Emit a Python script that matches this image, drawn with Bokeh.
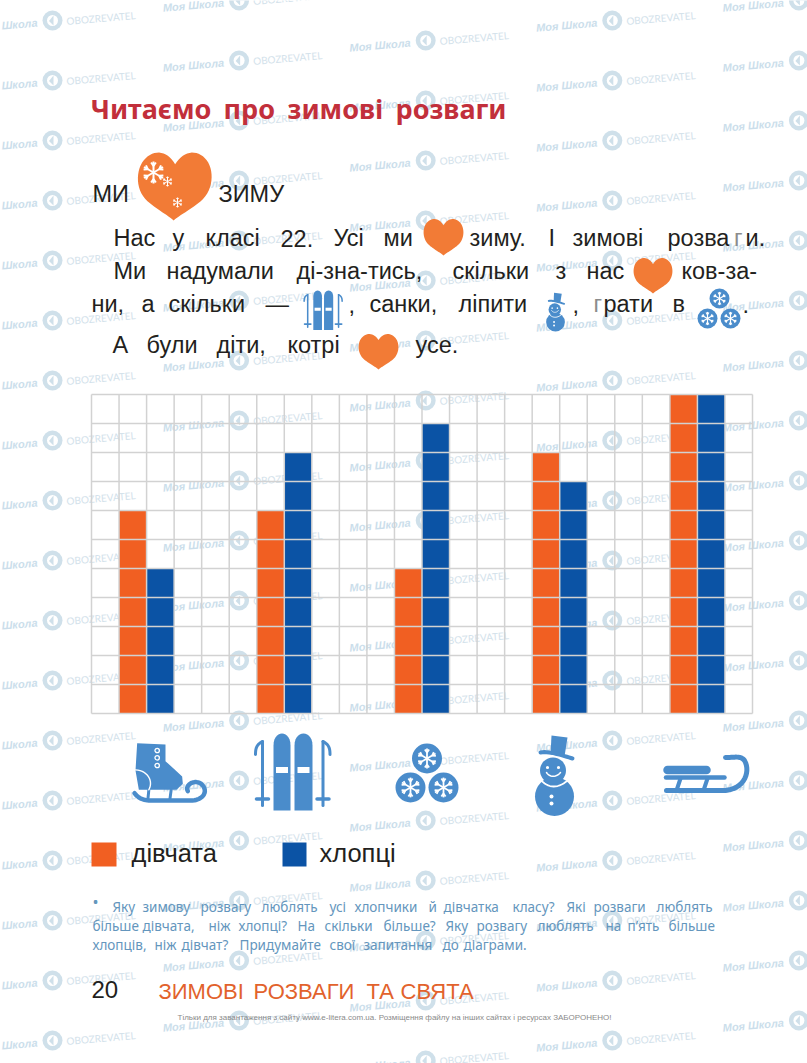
import math
from bokeh.plotting import figure
from bokeh.embed import file_html
from bokeh.resources import INLINE
from bokeh.models import Range1d
from bokeh.core.properties import value

# ---- data ----
activities = ["ковзани", "лижі", "сніжки", "сніговик", "санки"]
girls = [7, 7, 5, 9, 11]
boys = [5, 9, 10, 8, 11]
series_labels = ["дівчата", "хлопці"]
title_words = ["Читаємо", "про", "зимові", "розваги"]

# ---- page geometry ----
W, H = 807, 1063
PAD = 0
GX0, GX1, GY0, GY1 = 91.0, 752.0, 394.0, 713.0
COLS, ROWS = 24, 11
UX = (GX1 - GX0) / COLS
UY = (GY1 - GY0) / ROWS

ORANGE = "#f15f22"
BLUE = "#0b53a5"
HEART = "#f27b36"
ICON = "#4a8ccb"
INK = "#231f20"
WM = "#cfe0ea"

p = figure(width=W, height=H, output_backend="svg", toolbar_location=None,
           x_range=Range1d((PAD - GX0) / UX, (PAD + W - GX0) / UX),
           y_range=Range1d((GY1 - PAD - H) / UY, (GY1 - PAD) / UY),
           min_border=0, x_axis_type=None, y_axis_type=None,
           background_fill_color="white", border_fill_color="white")
p.outline_line_color = None
p.grid.visible = False
p.extra_x_ranges["px"] = Range1d(PAD, PAD + W)
p.extra_y_ranges["px"] = Range1d(PAD + H, PAD)
PX = dict(x_range_name="px", y_range_name="px")


def txt(x, y, s, font, size, color, style="normal", align="left", angle=0.0):
    # y is the visual baseline on the page; the renderer centres the caps on y
    p.text(x=[x], y=[y - 0.36 * size], text=[s], text_font=value(font), text_font_size=f"{size}px",
           text_color=color, text_font_style=style, text_align=align,
           text_baseline="alphabetic", angle=angle, **PX)


def words(items, y, font, size, color, style="normal"):
    for x, s in items:
        txt(x, y, s, font, size, color, style)


def bez(P0, P1, P2, P3, n=14):
    out = []
    for i in range(n + 1):
        t = i / n
        a, b, c, d = (1-t)**3, 3*t*(1-t)**2, 3*t*t*(1-t), t**3
        out.append((a*P0[0]+b*P1[0]+c*P2[0]+d*P3[0], a*P0[1]+b*P1[1]+c*P2[1]+d*P3[1]))
    return out


def path(segs):
    pts = []
    for s in segs:
        pts += bez(*s)
    return pts


# ---- watermarks ----
def watermark(cx, cy):
    ang = 0.085
    p.circle(x=[cx], y=[cy], radius=10, fill_color=WM, line_color=None, **PX)
    p.circle(x=[cx], y=[cy], radius=5.5, fill_color="white", line_color=None, **PX)
    p.patch(x=[cx + 1, cx - 3.5, cx + 1, cx + 1], y=[cy - 5, cy + 0.5, cy + 5, cy - 5],
            fill_color=WM, line_color=None, **PX)
    txt(cx - 15, cy + 6, "Моя Школа", "Liberation Sans", 11, "#cbdeeb", "bold italic", "right", ang)
    txt(cx + 14, cy + 4, "OBOZREVATEL", "Lato", 10, "#d3e2eb", "normal", "left", ang)


for col in range(5):
    base = 20 - 20 * col
    for r in range(0, 19):
        watermark(52 + 186.6 * col, base + 60 * r)

# ---- title and text ----
words(list(zip([90, 223, 287, 395], title_words)), 118, "Noto Sans", 27, "#c22f3b", "bold")

F, S = "Liberation Sans", 23.5
words([(92, "МИ"), (218, "ЗИМУ")], 202, F, S, INK)
words([(113, "Нас"), (172, "у"), (205, "класі"), (280, "22."), (333, "Усі"), (383, "ми"),
       (469, "зиму."), (548, "І"), (572, "зимові"), (667, "розва"), (745, "и.")], 246, F, S, INK)
txt(733.5, 246, "г", F, S, "#8c8c8c")
words([(113, "Ми"), (166, "надумали"), (296, "ді-зна-тись,"), (452, "скільки"), (555, "з"),
       (586, "нас"), (681, "ков-за-")], 279, F, S, INK)
words([(91, "ни,"), (141, "а"), (168, "скільки"), (265, "—"), (348, ","), (369, "санки,"),
       (458, "ліпити"), (572, ","), (603, "рати"), (672, "в"), (742, ".")], 312, F, S, INK)
txt(593, 312, "г", F, S, "#8c8c8c")
words([(112, "А"), (146, "були"), (216, "діти,"), (287, "котрі"), (415, "усе.")], 353, F, S, INK)


# ---- hearts ----
def heart(x0, x1, y0, y1, tilt=0.0):
    cx, w, h = (x0 + x1) / 2, (x1 - x0) / 2, y1 - y0
    left = path([((0, .16), (-.2, -.03), (-.55, -.07), (-.8, .07)),
                 ((-.8, .07), (-1.05, .2), (-1.08, .5), (-.78, .68)),
                 ((-.78, .68), (-.5, .83), (-.2, .9), (0, 1))])
    right = [(-a, b) for a, b in reversed(left)]
    pts = left + right
    xs = [cx + a * w + tilt * (b - .5) * w for a, b in pts]
    ys = [y0 + b * h for a, b in pts]
    p.patch(x=xs, y=ys, fill_color=HEART, line_color=None, **PX)


def flake(cx, cy, r, color="white"):
    xs, ys = [], []
    for k in range(6):
        a = math.pi / 6 + k * math.pi / 3
        ux, uy = math.cos(a), math.sin(a)
        xs.append([cx, cx + r * ux]); ys.append([cy, cy + r * uy])
        for d in (-0.6, 0.6):
            bx, by = cx + .6 * r * ux, cy + .6 * r * uy
            xs.append([bx, bx + .38 * r * math.cos(a + d)])
            ys.append([by, by + .38 * r * math.sin(a + d)])
    p.multi_line(xs=xs, ys=ys, line_color=color, line_width=max(1.0, r / 5.5), **PX)


heart(137, 211, 153, 220, tilt=-0.05)
flake(153, 172, 11); flake(167, 181, 5); flake(177, 202, 5)
heart(423, 463, 219, 255)
heart(633, 672, 258, 293)
heart(358, 398, 334, 369)


# ---- icons: authored in their large-size page position, then scaled ----
def mapper(bx, by, ox, oy, s):
    return lambda x, y: (ox + s * (x - bx), oy + s * (y - by))


def poly(T, pts, color=ICON):
    q = [T(*a) for a in pts]
    p.patch(x=[a for a, _ in q], y=[b for _, b in q], fill_color=color, line_color=None, **PX)


def stroke(T, s, pts, w, color=ICON):
    q = [T(*a) for a in pts]
    p.line(x=[a for a, _ in q], y=[b for _, b in q], line_color=color, line_width=w * s,
           line_cap="round", line_join="round", **PX)


def disc(T, s, x, y, r, color=ICON):
    cx, cy = T(x, y)
    p.circle(x=[cx], y=[cy], radius=r * s, fill_color=color, line_color=None, **PX)


def skate():
    z = lambda a, b: (110 + a / 3, 720 + b / 3)
    s = 1
    T = lambda x, y: (x, y)
    boot = [(80, 68), (165, 72), (165, 122), (190, 145), (215, 168), (217, 190), (198, 208), (85, 208), (75, 150)]
    poly(T, [z(*a) for a in boot])
    stroke(T, s, [z(115, 208), z(112, 238)], 3)
    stroke(T, s, [z(182, 208), z(178, 238)], 3)
    run = path([((72, 218), (85, 235), (100, 240), (125, 240)),
                ((125, 240), (170, 240), (220, 240), (245, 240)),
                ((245, 240), (280, 238), (295, 210), (272, 190)),
                ((272, 190), (250, 175), (222, 195), (232, 212))])
    stroke(T, s, [z(*a) for a in run], 4.5)
    arc = path([((75, 148), (110, 150), (130, 180), (115, 208))])
    stroke(T, s, [z(*a) for a in arc], 1.4, "white")
    for b in (90, 112, 135):
        cx, cy = z(140, b)
        p.circle(x=[cx], y=[cy], radius=2.2, fill_color=ICON, line_color="white", line_width=1.3, **PX)


def skis(ox, oy, s):
    T = mapper(292, 771, ox, oy, s)
    for x0, x1, bx in ((273, 290, 281.5), (294, 312, 303)):
        top = path([((x0, 745), (x0, 729), (x1, 729), (x1, 745))])
        poly(T, [(x0, 810)] + top + [(x1, 810)])
        poly(T, [(bx - 6, 766.5), (bx + 6, 766.5), (bx + 6, 772.5), (bx - 6, 772.5)], "white")
    for x, d in ((262, -1), (322.5, 1)):
        stroke(T, s, [(x, 741), (x, 805)], 3)
        hook = path([((x, 741), (x + d * 6, 744), (x + d * 7, 748), (x + d * 7, 754))])
        stroke(T, s, hook, 3)
        stroke(T, s, [(x - 6, 798.5), (x + 6, 798.5)], 3.5)


def balls(xa, ya, xb, yb, xc, yc, r):
    for x, y in ((xa, ya), (xb, yb), (xc, yc)):
        p.circle(x=[x], y=[y], radius=r, fill_color=ICON, line_color=None, **PX)
        flake(x, y, r * .66)


def snowman(ox, oy, s):
    T = mapper(554, 774, ox, oy, s)
    disc(T, s, 554, 796, 19.5)
    disc(T, s, 552.5, 770, 13)
    poly(T, [(551, 735), (567, 737), (564, 756), (550, 754)])
    brim = path([((540, 752), (548, 750), (565, 756), (572, 758))])
    stroke(T, s, brim, 4)
    scarf = path([((541, 780), (548, 788), (558, 788), (567, 780))])
    stroke(T, s, scarf, 1.8, "white")
    disc(T, s, 547, 767, 1.6, "white"); disc(T, s, 558, 767, 1.6, "white")
    smile = path([((546, 772), (549, 777), (556, 777), (560, 772))])
    stroke(T, s, smile, 1.5, "white")
    disc(T, s, 551, 796, 2, "white"); disc(T, s, 551, 803, 2, "white")


def sled():
    T = lambda x, y: (x, y)
    stroke(T, 1, [(667, 769.5), (706, 769.5)], 8.5)
    stroke(T, 1, [(665.5, 777), (724, 777)], 4.5)
    stroke(T, 1, [(680, 778), (676, 790)], 4)
    stroke(T, 1, [(707, 778), (703, 790)], 4)
    run = path([((666, 790), (685, 790), (700, 790), (725, 790)),
                ((725, 790), (745, 788), (750, 770), (744, 760)),
                ((744, 760), (740, 755), (735, 757), (725, 757))])
    stroke(T, 1, run, 5)


skate()
skis(292, 771, 1.0)
balls(426.5, 758, 410, 787, 443, 787, 15)
snowman(554, 774, 1.0)
sled()
skis(322.5, 309.5, 0.51)
snowman(555, 311, 0.48)
balls(719, 298, 707, 318, 730, 318, 10)

# ---- bars (data units: one grid cell wide, one row per value) ----
xs_g = [1.5 + 5 * i for i in range(len(activities))]
xs_b = [2.5 + 5 * i for i in range(len(activities))]
p.vbar(x=xs_g, top=girls, bottom=0, width=1, fill_color=ORANGE, line_color=None)
p.vbar(x=xs_b, top=boys, bottom=0, width=1, fill_color=BLUE, line_color=None)

# grid drawn over the bars, in data units
p.segment(x0=list(range(COLS + 1)), x1=list(range(COLS + 1)), y0=[0] * (COLS + 1), y1=[ROWS] * (COLS + 1),
          line_color="#d2d2d2", line_width=1.5, level="guide")
p.segment(x0=[0] * (ROWS + 1), x1=[COLS] * (ROWS + 1), y0=list(range(ROWS + 1)), y1=list(range(ROWS + 1)),
          line_color="#d2d2d2", line_width=1.5, level="guide")

# ---- legend ----
p.quad(left=[91, 282], right=[116, 306], top=[842, 842], bottom=[866, 866],
       fill_color=[ORANGE, BLUE], line_color=None, **PX)
txt(131, 862, series_labels[0], "Liberation Sans", 25.5, INK)
txt(319, 862, series_labels[1], "Liberation Sans", 25.5, INK)

# ---- question ----
Q, QS, QC = "Noto Sans", 13.5, "#6496bd"
txt(92, 907, "•", Q, 16, QC)
words([(112, "Яку"), (142, "зимову"), (200, "розвагу"), (261, "люблять"), (329, "усі"), (354, "хлопчики"),
       (428, "й"), (443, "дівчатка"), (512, "класу?"), (566, "Які"), (593, "розваги"), (656, "люблять")], 911, Q, QS, QC)
words([(92, "більше"), (142, "дівчата,"), (208, "ніж"), (238, "хлопці?"), (297, "На"), (324, "скільки"),
       (383, "більше?"), (445, "Яку"), (476, "розвагу"), (537, "люблять"), (605, "на"), (627, "п’ять"), (668, "більше")], 930, Q, QS, QC)
words([(92, "хлопців,"), (154, "ніж"), (181, "дівчат?"), (239, "Придумайте"), (329, "свої"),
       (363, "запитання"), (442, "до"), (463, "діаграми.")], 949, Q, QS, QC)

# ---- footer ----
txt(91, 998, "20", "Liberation Sans", 24, INK)
words([(158, "ЗИМОВІ"), (253, "РОЗВАГИ"), (366, "ТА"), (400, "СВЯТА")], 999, "Liberation Sans", 22, "#e2622c")
txt(177, 1020, "Тільки для завантаження з сайту www.e-litera.com.ua. Розміщення файлу на інших сайтах і ресурсах ЗАБОРОНЕНО!",
    "Liberation Sans", 8, "#8a8a8a")

open("out.html", "w").write(file_html(p, INLINE))
